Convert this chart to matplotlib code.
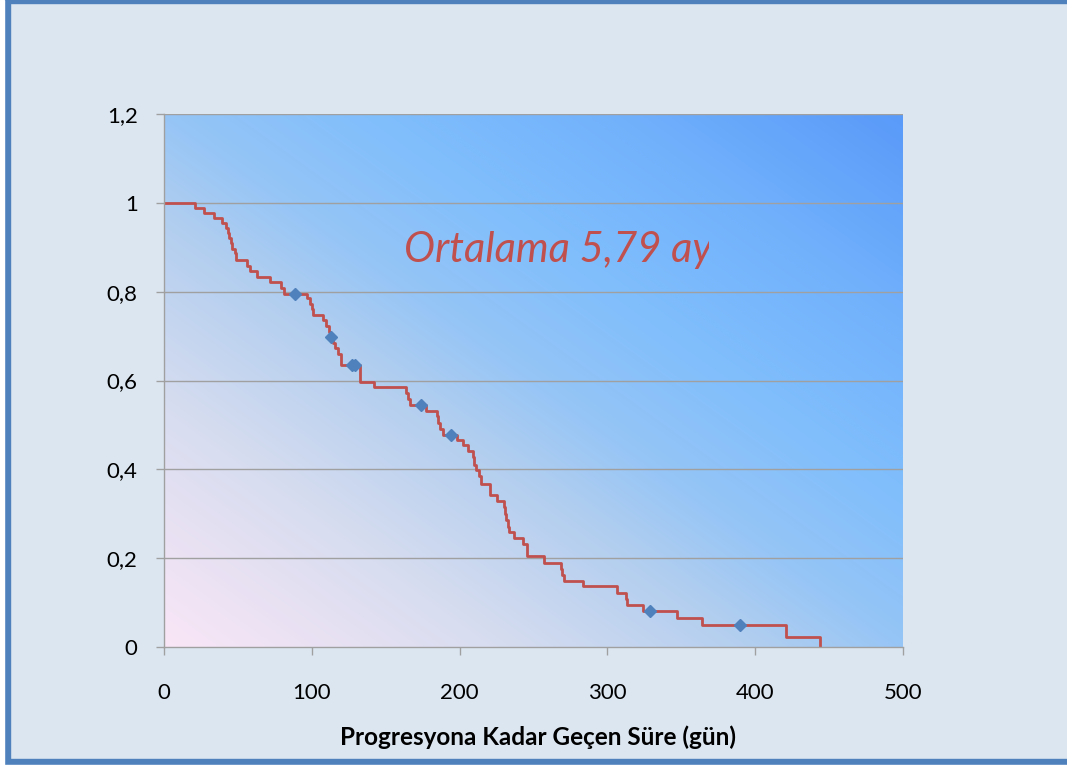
import numpy as np
import matplotlib
matplotlib.use("Agg")
import matplotlib.pyplot as plt
from matplotlib.colors import LinearSegmentedColormap
from matplotlib.patches import Rectangle

# Kaplan-Meier step curve: event times (days) and survival after each step
event_days = [0, 21, 27, 33.5, 39, 42, 43.3, 44.3, 45.3, 46, 47.7, 49,
              56.4, 58, 63, 71.7, 79, 81, 97, 99, 100.3, 100.8, 107.4,
              109.5, 111.5, 112.5, 114.5, 116, 118, 120, 132.6, 142,
              163.7, 165.3, 166.2, 177.3, 184.5, 185.5, 187, 189, 198.5,
              202.5, 205.9, 208.9, 209.5, 211, 213.3, 214.2, 220.6, 225,
              230, 231, 231.5, 232.5, 233.5, 236.8, 242.7, 245.8, 257,
              268.4, 269.2, 270.5, 283.7, 306.7, 312.6, 313.5, 324.3,
              347.3, 363.8, 420.6, 443.8]
survival = [1.0, 0.989, 0.977, 0.966, 0.954, 0.943, 0.931, 0.920, 0.909,
            0.897, 0.886, 0.872, 0.858, 0.846, 0.833, 0.821, 0.808, 0.795,
            0.785, 0.773, 0.760, 0.748, 0.736, 0.722, 0.710, 0.697, 0.684,
            0.673, 0.660, 0.635, 0.597, 0.585, 0.571, 0.558, 0.545, 0.532,
            0.519, 0.504, 0.491, 0.477, 0.466, 0.455, 0.441, 0.428, 0.410,
            0.399, 0.384, 0.368, 0.342, 0.328, 0.315, 0.300, 0.286, 0.271,
            0.258, 0.245, 0.232, 0.205, 0.190, 0.176, 0.162, 0.149, 0.137,
            0.122, 0.108, 0.095, 0.082, 0.066, 0.050, 0.023, 0.0]

# Censored observations
censor_days = [88.6, 112.8, 127.5, 129.5, 173.9, 194, 328.8, 389.7]
censor_surv = [0.795, 0.697, 0.635, 0.635, 0.545, 0.477, 0.082, 0.050]

x_ticks = [0, 100, 200, 300, 400, 500]
y_ticks = [0, 0.2, 0.4, 0.6, 0.8, 1.0, 1.2]
y_tick_labels = ["0", "0,2", "0,4", "0,6", "0,8", "1", "1,2"]

annotation = "Ortalama 5,79 ay"
x_label = "Progresyona Kadar Geçen Süre (gün)"

plt.rcParams["font.family"] = ["Lato", "DejaVu Sans"]

W, H = 1067, 767
fig = plt.figure(figsize=(W / 100, H / 100), dpi=100)
fig.patch.set_facecolor("#DCE6F1")

# Outer frame
frame = "#4F81BD"
fig.patches.append(Rectangle((4 / W, 0), 6 / W, 1, transform=fig.transFigure,
                             color=frame, zorder=0))
fig.patches.append(Rectangle((4 / W, 1 - 3 / H), 1, 3 / H, transform=fig.transFigure,
                             color=frame, zorder=0))
fig.patches.append(Rectangle((4 / W, 2 / H), 1, 6 / H, transform=fig.transFigure,
                             color=frame, zorder=0))
fig.patches.append(Rectangle((0, 0), 4 / W, 1, transform=fig.transFigure,
                             color="white", zorder=0))
fig.patches.append(Rectangle((0, 0), 1, 2 / H, transform=fig.transFigure,
                             color="white", zorder=0))

ax = fig.add_axes([164 / W, (H - 647) / H, 739 / W, 533 / H])
ax.set_facecolor("none")

# Diagonal gradient background of the plot area
cmap = LinearSegmentedColormap.from_list(
    "bg", [(0.0, "#F9E6F6"), (0.22, "#D8DDF0"), (0.40, "#B2CEEF"),
           (0.50, "#96C5F6"), (0.64, "#80BEFC"), (0.80, "#72B2FC"),
           (1.0, "#5A9AF9")])
u = np.linspace(0, 1, 300)
v = np.linspace(0, 1, 300)
U, V = np.meshgrid(u, v)
grad = (U + V) / 2
ax.imshow(grad, cmap=cmap, extent=[0, 1, 0, 1], transform=ax.transAxes,
          origin="lower", aspect="auto", zorder=0, interpolation="bicubic")

ax.set_xlim(0, 500)
ax.set_ylim(0, 1.2)

for yv in y_ticks[1:]:
    ax.axhline(yv, color="#A0A0A0", lw=1.0, zorder=1)

ax.plot(event_days, survival, drawstyle="steps-post", color="#C0504D",
        lw=2.0, zorder=3)
ax.plot(censor_days, censor_surv, linestyle="none", marker="D",
        color="#4F81BD", markersize=6.5, zorder=4)

note = ax.text(162.4, 0.867, annotation, fontsize=30, style="italic",
               color="#C0504D", ha="left", va="baseline", zorder=5)
# the text box ends partway through the final "y"
note.set_clip_path(Rectangle((0, 0), 709 / W, 1, transform=fig.transFigure))
note.set_clip_on(True)

for s in ["top", "right"]:
    ax.spines[s].set_visible(False)
for s in ["left", "bottom"]:
    ax.spines[s].set_color("#A0A0A0")
    ax.spines[s].set_linewidth(1.0)
    ax.spines[s].set_zorder(5)

ax.set_xticks(x_ticks)
ax.set_yticks(y_ticks)
ax.set_yticklabels(y_tick_labels)
ax.tick_params(axis="both", direction="out", length=6, width=1,
               color="#A0A0A0", labelsize=16, labelcolor="black")
ax.tick_params(axis="x", pad=20)
ax.tick_params(axis="y", pad=13)

fig.text(538 / W, 1 - 745 / H, x_label, fontsize=17.5, fontweight="bold",
         ha="center", va="baseline", color="black")

fig.savefig("out.png", dpi=100, facecolor=fig.get_facecolor())
